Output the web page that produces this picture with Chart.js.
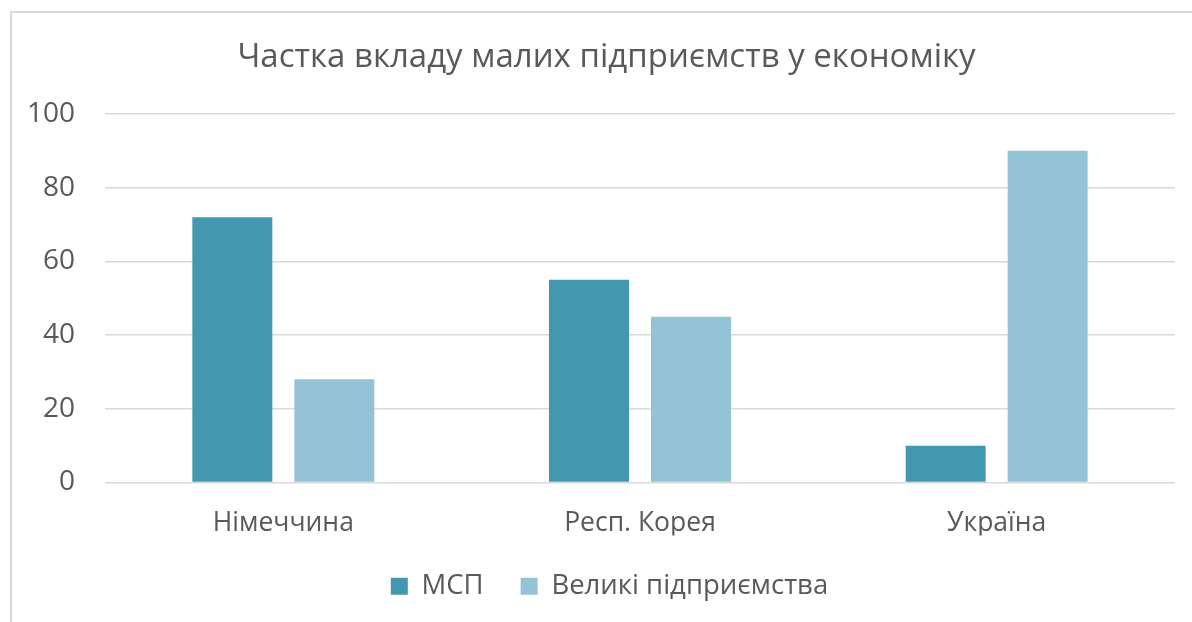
<!DOCTYPE html>
<html>
<head>
<meta charset="utf-8">
<script src="https://cdn.jsdelivr.net/npm/chart.js@4/dist/chart.umd.min.js"></script>
<style>
  html, body { margin: 0; padding: 0; background: #fff; }
  #wrap { position: relative; width: 1192px; height: 622px; overflow: hidden; }
  #frame { position: absolute; left: 10px; top: 11px; width: 1250px; height: 700px; border: 2px solid #dadada; }
  #chart { position: absolute; left: 0; top: 0; }
</style>
</head>
<body>
<div id="wrap">
  <div id="frame"></div>
  <canvas id="chart" width="1192" height="622"></canvas>
</div>
<script>
// chart data
const countries = ["Німеччина", "Респ. Корея", "Україна"];
const smeShare = [72, 55, 10];
const bigShare = [28, 45, 90];
const yTicks = [0, 20, 40, 60, 80, 100];

const textColor = "#595959";
const fontName = "'Open Sans', sans-serif";

// title and legend sit a bit right of centre in the original
const blockShift = {
    id: "blockShift",
    afterLayout(chart) {
        const lg = chart.legend;
        if (lg) {
            lg.left += 22;
            lg.right += 22;
        }
        const tb = chart.titleBlock;
        if (tb) {
            tb.left += 19;
            tb.right += 19;
        }
    }
};

const data = {
    labels: countries,
    datasets: [
        {
            label: "МСП",
            data: smeShare,
            backgroundColor: "#4398b0",
            borderWidth: 0
        },
        {
            label: "Великі підприємства",
            data: bigShare,
            backgroundColor: "#93c3d5",
            borderWidth: 0
        }
    ]
};

const config = {
    type: "bar",
    data: data,
    plugins: [blockShift],
    options: {
        responsive: false,
        animation: false,
        devicePixelRatio: 1,
        categoryPercentage: 0.572,
        barPercentage: 0.784,
        layout: { padding: { left: 0, right: 17, top: 0, bottom: 12 } },
        plugins: {
            title: {
                display: true,
                text: "Частка вкладу малих підприємств у економіку",
                color: textColor,
                font: { family: fontName, size: 33, weight: "normal", lineHeight: 1.2 },
                padding: { top: 38, bottom: 36.4 }
            },
            legend: {
                position: "bottom",
                labels: {
                    color: textColor,
                    font: { family: fontName, size: 27.5 },
                    boxWidth: 17,
                    boxHeight: 17,
                    padding: 37
                }
            },
            tooltip: { enabled: false }
        },
        scales: {
            x: {
                grid: { display: false, drawTicks: false },
                border: { display: false },
                ticks: {
                    color: textColor,
                    font: { family: fontName, size: 26.5 },
                    padding: 25
                },
                afterFit: function(scale) { scale.height = 53; }
            },
            y: {
                min: 0,
                max: 100,
                afterBuildTicks: function(scale) {
                    scale.ticks = yTicks.map(v => ({ value: v }));
                },
                grid: { color: "#d9d9d9", lineWidth: 1.5, drawTicks: false },
                border: { display: false },
                ticks: {
                    color: textColor,
                    font: { family: fontName, size: 28 },
                    padding: 30
                },
                afterFit: function(scale) { scale.width = 105; }
            }
        }
    }
};

const myChart = new Chart(document.getElementById("chart"), config);
</script>
</body>
</html>
